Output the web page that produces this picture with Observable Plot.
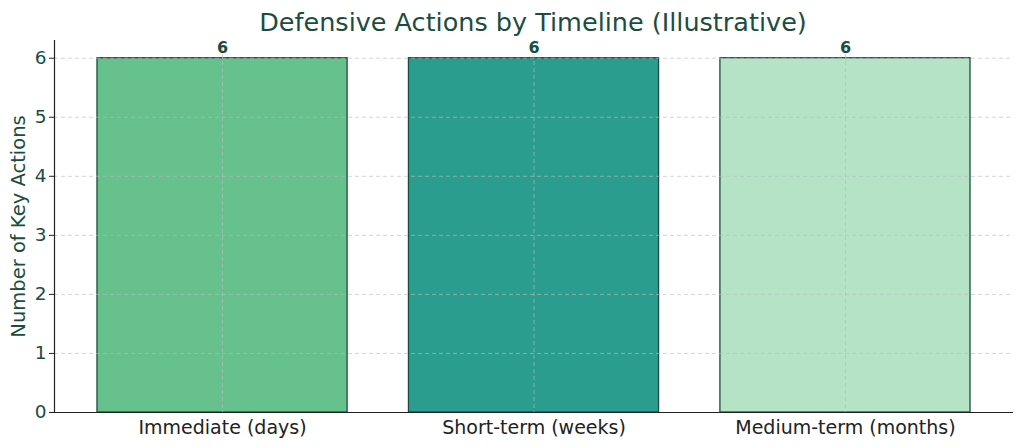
<!DOCTYPE html>
<html>
<head>
<meta charset="utf-8">
<script src="https://cdn.jsdelivr.net/npm/d3@7"></script>
<script src="https://cdn.jsdelivr.net/npm/@observablehq/plot@0.6"></script>
<style>
  html, body { margin: 0; padding: 0; background: #fff; }
  body { width: 1024px; height: 448px; overflow: hidden; font-family: "DejaVu Sans", sans-serif; }
  #title { height: 36px; line-height: 44px; text-align: center; font-size: 25.5px; color: #1b4d3e; padding-left: 42px; box-sizing: border-box; }
  svg { display: block; }
</style>
</head>
<body>
<div id="title">Defensive Actions by Timeline (Illustrative)</div>
<div id="chart"></div>
<script>
const categories = ["Immediate (days)", "Short-term (weeks)", "Medium-term (months)"];
const values = [6, 6, 6];
const colors = ["#66c18c", "#2a9d8f", "#b5e3c6"];
const yTicks = [0, 1, 2, 3, 4, 5, 6];

const data = categories.map((c, i) => ({category: c, value: values[i], color: colors[i]}));
const dark = "#1b4d3e";

const chart = Plot.plot({
  width: 1024,
  height: 412,
  marginLeft: 54,
  marginRight: 11,
  marginTop: 4,
  marginBottom: 36,
  style: {fontFamily: "DejaVu Sans, sans-serif", background: "#fff", overflow: "visible"},
  x: {domain: categories, paddingInner: 0.197, paddingOuter: 0.138, round: false, label: null, tickSize: 0},
  y: {domain: [0, 6.3], ticks: yTicks, label: null, tickSize: 0, tickFormat: "d"},
  marks: [
    Plot.barY(data, {x: "category", y: "value", fill: "color", stroke: dark, strokeWidth: 1.3}),
    Plot.gridY(yTicks, {stroke: "#bbb", strokeOpacity: 0.8, strokeDasharray: "4,3", strokeWidth: 0.8}),
    Plot.gridX(categories, {stroke: "#bbb", strokeOpacity: 0.8, strokeDasharray: "4,3", strokeWidth: 0.8}),
    Plot.text(data, {x: "category", y: "value", text: d => String(d.value), dy: -10, fontWeight: "bold", fontSize: 16, fill: dark}),
    Plot.axisY(yTicks, {tickSize: 5, tickPadding: 3, fontSize: 18.5, color: dark, stroke: "#222", label: null, tickFormat: "d"}),
    Plot.axisX(categories, {tickSize: 0, tickPadding: 8, fontSize: 19, color: "#222", label: null}),
    Plot.frame({anchor: "left", stroke: "#222", strokeWidth: 1.2}),
    Plot.ruleY([0], {stroke: "#222", strokeWidth: 1.2}),
    Plot.text(["Number of Key Actions"], {frameAnchor: "left", dx: -36, rotate: -90, fontSize: 19.5, fill: dark, textAnchor: "middle"})
  ]
});
document.getElementById("chart").appendChild(chart);
</script>
</body>
</html>
